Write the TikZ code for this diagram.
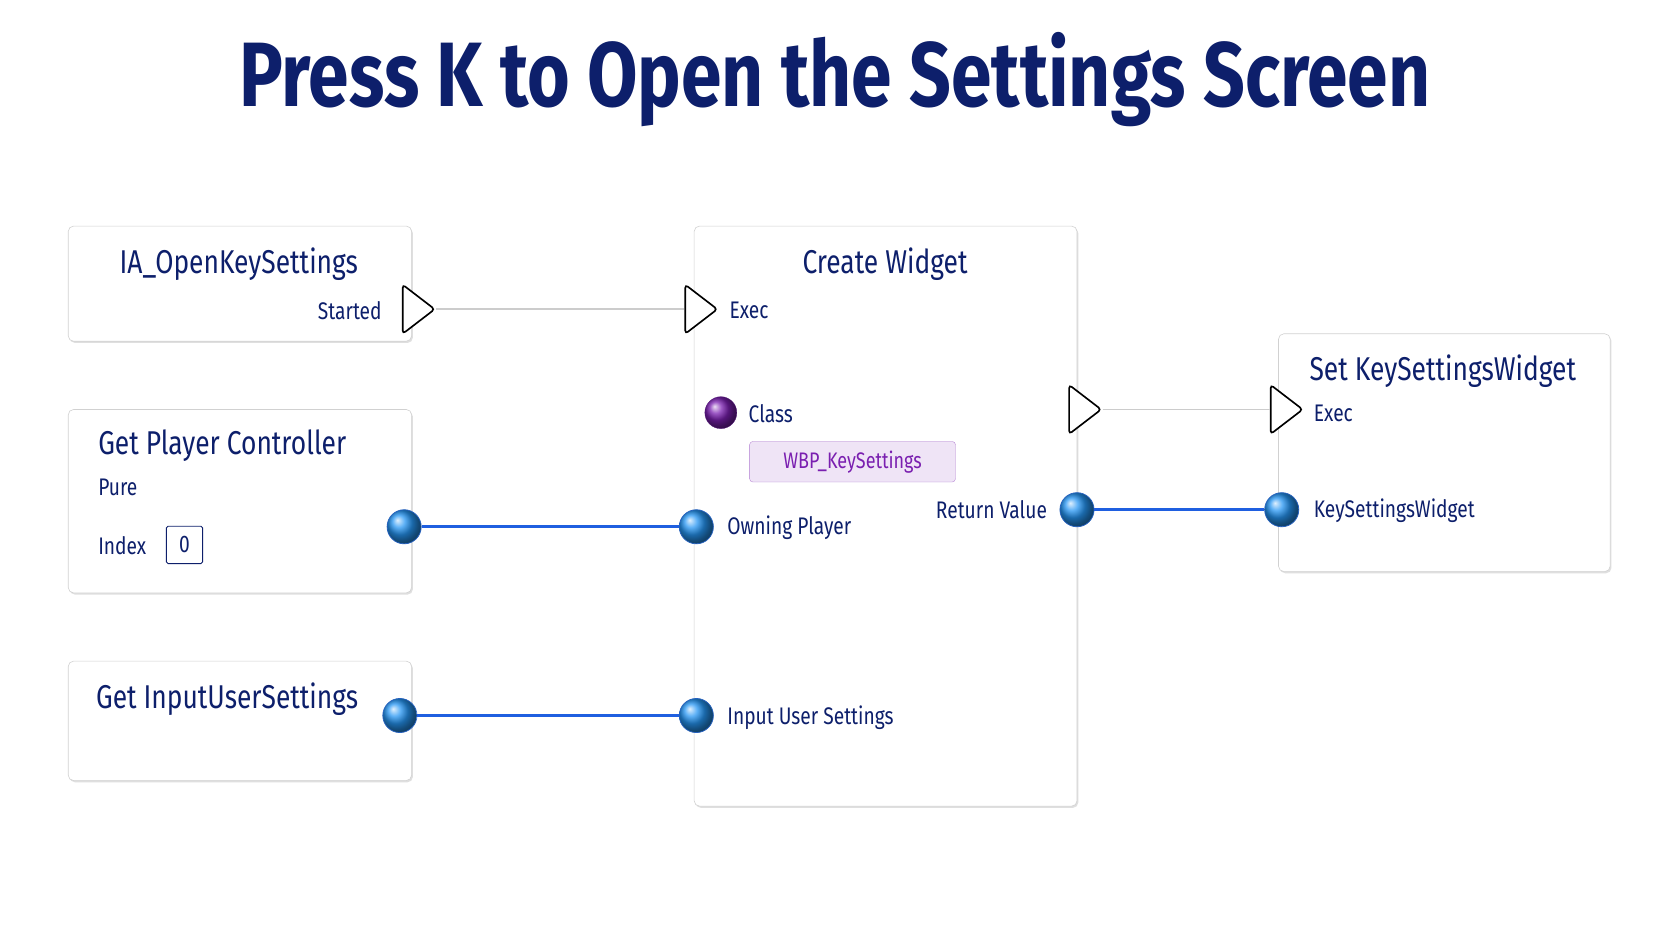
\documentclass[tikz,border=0pt]{standalone}
\usepackage{fontspec}
\setmainfont[FakeStretch=0.8]{Fira Sans}
\usetikzlibrary{shapes.geometric,shadows}
\definecolor{navy}{HTML}{0D1F6B}
\definecolor{pinblue}{HTML}{2F7BF0}
\definecolor{linkblue}{HTML}{1F5FE0}
\definecolor{purp}{HTML}{7A1FB0}
\tikzset{
 card/.style={draw=black!18, fill=white, rounded corners=2.5mm, line width=0.8pt, drop shadow={opacity=0.25, shadow xshift=0.6mm, shadow yshift=-0.8mm}},
 ttl/.style={text=navy, font=\fontsize{44}{50}\selectfont},
 lbl/.style={text=navy, font=\fontsize{32}{38}\selectfont, inner sep=0},
 bpin/.style={circle, minimum size=16mm, inner sep=0, ball color=pinblue!80!cyan, draw=pinblue!80!black, line width=1pt},
 epin/.style={isosceles triangle, isosceles triangle apex angle=75, minimum height=15mm, inner sep=0, draw=black, line width=2.2pt, fill=white, rounded corners=1.5mm},
 elink/.style={draw=black!20, line width=2.5pt},
 blink/.style={draw=linkblue, line width=4pt},
}
\begin{document}
\begin{tikzpicture}[x=0.5mm,y=-0.5mm]
\useasboundingbox (0,0) rectangle (1568,882);
\fill[white] (0,0) rectangle (1568,882);
\node[text=navy, font=\bfseries\fontsize{122}{130}\selectfont] (title) at (783,75) {Press K to Open the Settings Screen};
\draw[card] (64,212) rectangle (386,320);
\draw[card] (64,384) rectangle (386,556);
\draw[card] (64,620) rectangle (386,732);
\draw[card] (651,212) rectangle (1010,756);
\draw[card] (1199,313) rectangle (1510,536);
\node[ttl] (t1) at (224,248) {IA\_OpenKeySettings};
\node[lbl, anchor=east] (started) at (358,291) {Started};
\node[epin] (e1) at (389,290) {};
\node[ttl, anchor=west, inner sep=0] (t2) at (92,418) {Get Player Controller};
\node[lbl, anchor=west] (pure) at (92,457) {Pure};
\node[lbl, anchor=west] (index) at (92,512) {Index};
\node[draw=navy, line width=1.2pt, rounded corners=0.8mm, minimum width=17mm, minimum height=17.5mm, inner sep=0, lbl] (zero) at (173,511) {0};
\node[bpin] (p2) at (379,494) {};
\node[ttl, anchor=west, inner sep=0] (t3) at (90,656) {Get InputUserSettings};
\node[bpin] (p3) at (375,671) {};
\node[ttl] (t4) at (830,248) {Create Widget};
\node[epin] (e2) at (654,290) {};
\node[lbl, anchor=west] (exec2) at (684,291) {Exec};
\node[circle, minimum size=15mm, inner sep=0, ball color=purp, draw=purp!70!black] (cls) at (676,387) {};
\node[lbl, anchor=west] (clsl) at (702,388) {Class};
\node[draw=purp!60, fill=purp!12, rounded corners=1.5mm, minimum width=96.5mm, minimum height=19mm, inner sep=0, text=purp, font=\fontsize{30}{36}\selectfont] (wbp) at (799.5,433) {WBP\_KeySettings};
\node[bpin] (p4) at (653,494) {};
\node[lbl, anchor=west] (own) at (682,495) {Owning Player};
\node[lbl, anchor=east] (ret) at (982,478) {Return Value};
\node[bpin] (p5) at (1010,478) {};
\node[bpin] (p6) at (653,671) {};
\node[lbl, anchor=west] (ius) at (682,673) {Input User Settings};
\node[epin] (e3) at (1014,384) {};
\node[ttl, anchor=west, inner sep=0] (t5) at (1228,348) {Set KeySettingsWidget};
\node[epin] (e4) at (1203,384) {};
\node[lbl, anchor=west] (exec4) at (1232,388) {Exec};
\node[bpin] (p7) at (1202,478) {};
\node[lbl, anchor=west] (ksw) at (1232,479) {KeySettingsWidget};
\draw[elink] (e1.apex) -- (e2.west);
\draw[elink] (e3.apex) -- (e4.west);
\draw[blink] (p2.east) -- (p4.west);
\draw[blink] (p3.east) -- (p6.west);
\draw[blink] (p5.east) -- (p7.west);
\end{tikzpicture}
\end{document}
